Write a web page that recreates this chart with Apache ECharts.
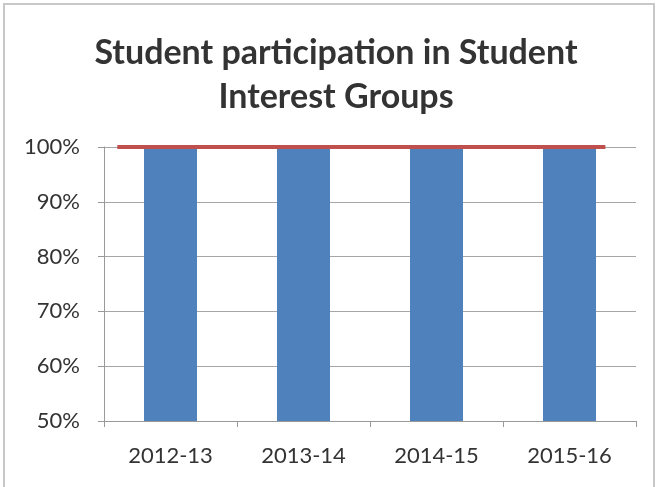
<!DOCTYPE html>
<html>
<head>
<meta charset="utf-8">
<script src="https://cdn.jsdelivr.net/npm/echarts@6/dist/echarts.min.js"></script>
<style>
  html, body { margin: 0; padding: 0; background: #fff; }
  #frame { position: absolute; left: 3px; top: 3px; width: 652px; height: 490px; border: 2px solid #c8c8c8; box-sizing: border-box; }
  #chart { position: absolute; left: 0; top: 0; width: 661px; height: 487px; }
</style>
</head>
<body>
<div id="frame"></div>
<div id="chart"></div>
<script>
// School years shown on the category axis
const years = ['2012-13', '2013-14', '2014-15', '2015-16'];
// Share of students taking part in interest groups (%)
const participation = [100, 100, 100, 100];
// Target level (%) and the span of the target line, in category units
const targetValue = 100;
const targetSpan = [0.1, 3.77];
// Value-axis range and tick labels
const yMin = 50, yMax = 100, yStep = 10;

const chart = echarts.init(document.getElementById('chart'));
chart.setOption({
  animation: false,
  title: {
    text: 'Student participation in Student\nInterest Groups',
    left: 331, textAlign: 'center', top: 26,
    textStyle: { fontFamily: 'Lato', fontWeight: 'bold', fontSize: 34, color: '#333', lineHeight: 44 }
  },
  grid: { left: 104, right: 25, top: 147, bottom: 66 },
  xAxis: [{
    type: 'category', data: years,
    axisLine: { lineStyle: { color: '#999', width: 1 } },
    axisTick: { show: true, length: 6, alignWithLabel: false, lineStyle: { color: '#999' } },
    axisLabel: { fontFamily: 'Lato', fontSize: 22, color: '#333', margin: 24 }
  }, {
    type: 'value', min: 0, max: years.length, show: false, position: 'bottom'
  }],
  yAxis: {
    type: 'value', min: yMin, max: yMax, interval: yStep,
    axisLine: { show: true, lineStyle: { color: '#999' } },
    axisTick: { show: true, length: 6, lineStyle: { color: '#999' } },
    splitLine: { lineStyle: { color: '#a6a6a6', width: 1 } },
    axisLabel: { formatter: '{value}%', fontFamily: 'Lato', fontSize: 22, color: '#333', margin: 24 }
  },
  series: [{
    type: 'bar', data: participation, xAxisIndex: 0,
    barWidth: 53,
    itemStyle: { color: '#4f81bd' }
  }, {
    type: 'line', xAxisIndex: 1, symbol: 'none',
    data: targetSpan.map(x => [x, targetValue]),
    lineStyle: { color: '#c0504d', width: 4 },
    z: 5
  }]
});
</script>
</body>
</html>
